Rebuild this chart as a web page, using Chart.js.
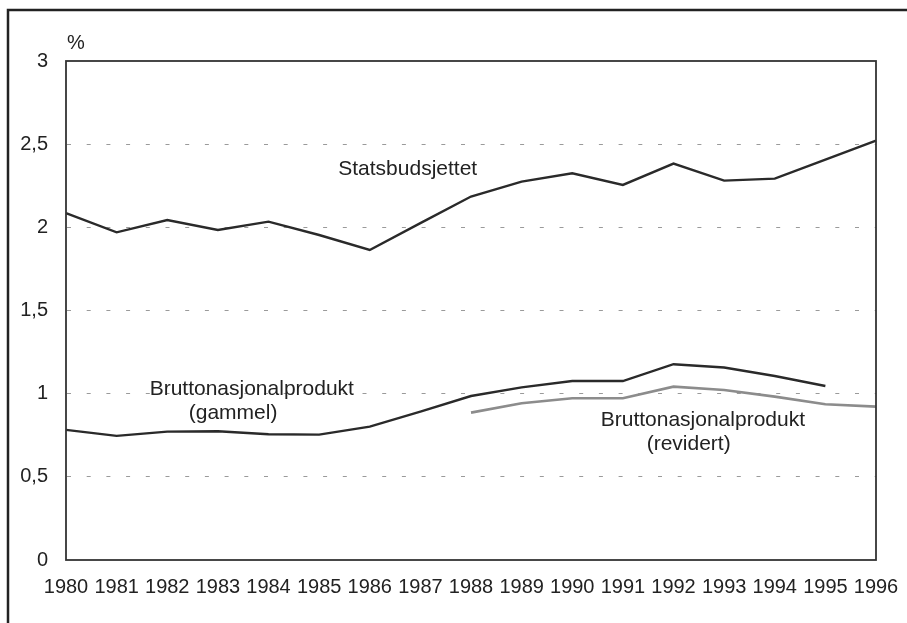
<!DOCTYPE html>
<html>
<head>
<meta charset="utf-8">
<script src="https://cdn.jsdelivr.net/npm/chart.js@4"></script>
<style>
  html, body { margin: 0; padding: 0; background: #fff; }
  #wrap { width: 907px; height: 623px; }
</style>
</head>
<body>
<div id="wrap"><canvas id="chart-area" width="907" height="623"></canvas></div>
<script>
const years = ["1980","1981","1982","1983","1984","1985","1986","1987","1988",
  "1989","1990","1991","1992","1993","1994","1995","1996"];

const statsbudsjettet = [2.085, 1.97, 2.044, 1.984, 2.034, 1.954, 1.864, 2.025, 2.185,
  2.275, 2.325, 2.255, 2.383, 2.281, 2.293, 2.407, 2.521];

const bnpGammel = [0.782, 0.746, 0.772, 0.774, 0.756, 0.754, 0.802, 0.892, 0.986,
  1.038, 1.076, 1.076, 1.177, 1.157, 1.106, 1.046, null];

const bnpRevidert = [null, null, null, null, null, null, null, null, 0.886,
  0.942, 0.972, 0.972, 1.042, 1.022, 0.982, 0.936, 0.922];

const yTicks = [0, 0.5, 1, 1.5, 2, 2.5, 3];

// text labels placed in data space: [text, x index, y value]
const seriesLabels = [
  ["Statsbudsjettet", 6.75, 2.35],
  ["Bruttonasjonalprodukt", 3.67, 1.028],
  ["(gammel)", 3.3, 0.884],
  ["Bruttonasjonalprodukt", 12.58, 0.842],
  ["(revidert)", 12.3, 0.697],
];

const FONT = "'Liberation Sans', Arial, Helvetica, sans-serif";

const decorPlugin = {
  id: "decor",
  beforeDraw(chart) {
    const ctx = chart.ctx;
    ctx.save();
    ctx.fillStyle = "#fff";
    ctx.fillRect(0, 0, chart.width, chart.height);
    // outer frame (top and left)
    ctx.strokeStyle = "#222";
    ctx.lineWidth = 2.5;
    ctx.beginPath();
    ctx.moveTo(8, chart.height);
    ctx.lineTo(8, 10);
    ctx.lineTo(chart.width, 10);
    ctx.stroke();
    ctx.restore();
  },
  afterDraw(chart) {
    const ctx = chart.ctx;
    const a = chart.chartArea;
    const xs = chart.scales.x, ys = chart.scales.y;
    ctx.save();
    // plot box
    ctx.strokeStyle = "#333";
    ctx.lineWidth = 1.8;
    ctx.strokeRect(a.left, a.top, a.right - a.left, a.bottom - a.top);
    // unit
    ctx.fillStyle = "#222";
    ctx.font = "20px " + FONT;
    ctx.textAlign = "left";
    ctx.textBaseline = "middle";
    ctx.fillText("%", a.left + 1, a.top - 18);
    // series labels
    ctx.font = "21px " + FONT;
    ctx.textAlign = "center";
    seriesLabels.forEach(([t, xv, yv]) => {
      ctx.fillText(t, xs.getPixelForValue(xv), ys.getPixelForValue(yv));
    });
    ctx.restore();
  },
};

new Chart("chart-area", {
  type: "line",
  data: {
    labels: years,
    datasets: [
      {
        label: "Statsbudsjettet",
        data: statsbudsjettet,
        borderColor: "#2a2a2a",
        borderWidth: 2.4,
      },
      {
        label: "Bruttonasjonalprodukt (gammel)",
        data: bnpGammel,
        borderColor: "#2a2a2a",
        borderWidth: 2.4,
      },
      {
        label: "Bruttonasjonalprodukt (revidert)",
        data: bnpRevidert,
        borderColor: "#8c8c8c",
        borderWidth: 2.6,
      },
    ],
  },
  options: {
    responsive: false,
    animation: false,
    events: [],
    elements: { point: { radius: 0 }, line: { tension: 0 } },
    layout: { padding: { left: 0, top: 61, right: 31, bottom: 0 } },
    plugins: { legend: { display: false }, tooltip: { enabled: false } },
    scales: {
      x: {
        offset: false,
        grid: { display: false, drawTicks: false },
        border: { display: false },
        ticks: {
          autoSkip: false,
          maxRotation: 0,
          padding: 15,
          color: "#222",
          font: { family: FONT, size: 20 },
        },
        afterFit: (s) => { s.height = 63; s.paddingLeft = 0; s.paddingRight = 0; },
      },
      y: {
        min: 0,
        max: 3,
        afterBuildTicks: (s) => { s.ticks = yTicks.map((v) => ({ value: v })); },
        grid: {
          drawTicks: false,
          color: (c) => (c.tick.value === 0 || c.tick.value === 3 ? "rgba(0,0,0,0)" : "#9a9a9a"),
          lineWidth: 1,
        },
        border: { display: false, dash: [4, 15.7], dashOffset: -1 },
        ticks: {
          padding: 18,
          color: "#222",
          font: { family: FONT, size: 20 },
          callback: (v) => String(v).replace(".", ","),
        },
        afterFit: (s) => { s.width = 66; },
      },
    },
  },
  plugins: [decorPlugin],
});
</script>
</body>
</html>
